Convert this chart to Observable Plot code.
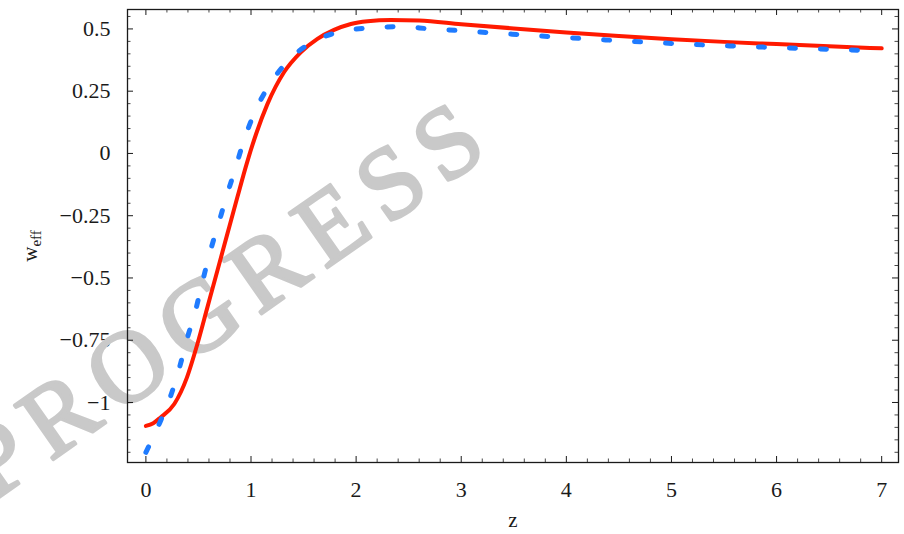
<!DOCTYPE html>
<html><head><meta charset="utf-8">
<script src="https://cdn.jsdelivr.net/npm/d3@7"></script>
<script src="https://cdn.jsdelivr.net/npm/@observablehq/plot@0.6"></script>
<style>
html,body{margin:0;padding:0;background:#fff;}
#chart{width:904px;height:534px;}
#chart svg text{font-family:'Liberation Serif','Times New Roman',serif !important;}
</style></head><body><div id="chart"></div>
<script>
// --- data ---
const zRed = [0, 0.07, 0.14, 0.27, 0.39, 0.49, 0.585, 0.68, 0.775, 0.87, 0.96, 1.05, 1.156, 1.314, 1.473, 1.632, 1.79, 1.95, 2.11, 2.33, 2.6, 3.0, 3.5, 4.0, 4.5, 5.0, 5.5, 6.0, 6.5, 7.0];
const wRed = [-1.094, -1.083, -1.06, -1.006, -0.90, -0.765, -0.618, -0.471, -0.323, -0.176, -0.04, 0.08, 0.198, 0.326, 0.406, 0.460, 0.496, 0.520, 0.531, 0.536, 0.534, 0.519, 0.502, 0.486, 0.472, 0.459, 0.448, 0.439, 0.430, 0.422];

const zBlue = [0, 0.133, 0.242, 0.324, 0.388, 0.473, 0.527, 0.61, 0.69, 0.769, 0.854, 0.927, 1.035, 1.17, 1.34, 1.56, 1.83, 2.12, 2.42, 2.71, 3.0, 3.3, 3.6, 3.9, 4.2, 4.5, 4.8, 5.1, 5.4, 5.7, 6.0, 6.3, 6.6, 6.9, 7.0];
const wBlue = [-1.20, -1.08, -0.966, -0.853, -0.750, -0.630, -0.535, -0.397, -0.283, -0.17, -0.056, 0.045, 0.165, 0.272, 0.366, 0.442, 0.487, 0.504, 0.509, 0.50, 0.493, 0.484, 0.476, 0.468, 0.46, 0.453, 0.446, 0.44, 0.434, 0.43, 0.425, 0.421, 0.417, 0.413, 0.412];

const xTicks = [0, 1, 2, 3, 4, 5, 6, 7];
const xTickLabels = ["0", "1", "2", "3", "4", "5", "6", "7"];
const yTicks = [0.5, 0.25, 0, -0.25, -0.5, -0.75, -1];
const yTickLabels = ["0.5", "0.25", "0", "\u22120.25", "\u22120.5", "\u22120.75", "\u22121"];
const xMinorTicks = [0.2,0.4,0.6,0.8,1.2,1.4,1.6,1.8,2.2,2.4,2.6,2.8,3.2,3.4,3.6,3.8,4.2,4.4,4.6,4.8,5.2,5.4,5.6,5.8,6.2,6.4,6.6,6.8];
const yMinorTicks = [0.55,0.45,0.4,0.35,0.3,0.2,0.15,0.1,0.05,-0.05,-0.1,-0.15,-0.2,-0.3,-0.35,-0.4,-0.45,-0.55,-0.6,-0.65,-0.7,-0.8,-0.85,-0.9,-0.95,-1.05,-1.1,-1.15,-1.2];
const xLabel = "z";
const yLabelMain = "w";
const yLabelSub = "eff";
const watermarkText = "PROGRESS";

// --- layout ---
const W = 904, H = 534;
const mL = 127, mR = 6, mT = 9, mB = 72;
const pw = W - mL - mR, ph = H - mT - mB;
const font = "'Liberation Serif', 'Times New Roman', serif";
const ink = "#1a1a1a";
const majorLen = 6, minorLen = 3.5;

const plot = Plot.plot({
  width: W, height: H,
  marginLeft: mL, marginRight: mR, marginTop: mT, marginBottom: mB,
  x: {domain: [-0.175, 7.16]},
  y: {domain: [-1.241, 0.578]},
  style: {fontFamily: font, fontSize: "22px", background: "white", color: ink, overflow: "visible"},
  marks: [
    Plot.axisX(xTicks, {tickSize: 0, tickPadding: 19, tickFormat: d => xTickLabels[xTicks.indexOf(d)], label: null, fontSize: 22}),
    Plot.axisY(yTicks, {tickSize: 0, tickPadding: 17, tickFormat: d => yTickLabels[yTicks.indexOf(d)], label: null, fontSize: 22}),
    // inward ticks on all four sides (bottom, top, left, right)
    Plot.tickX(xTicks, {x: d => d, insetTop: ph - majorLen, stroke: ink}),
    Plot.tickX(xTicks, {x: d => d, insetBottom: ph - majorLen, stroke: ink}),
    Plot.tickX(xMinorTicks, {x: d => d, insetTop: ph - minorLen, stroke: ink, strokeWidth: 0.8}),
    Plot.tickX(xMinorTicks, {x: d => d, insetBottom: ph - minorLen, stroke: ink, strokeWidth: 0.8}),
    Plot.tickY(yTicks, {y: d => d, insetRight: pw - majorLen, stroke: ink}),
    Plot.tickY(yTicks, {y: d => d, insetLeft: pw - majorLen, stroke: ink}),
    Plot.tickY(yMinorTicks, {y: d => d, insetRight: pw - minorLen, stroke: ink, strokeWidth: 0.8}),
    Plot.tickY(yMinorTicks, {y: d => d, insetLeft: pw - minorLen, stroke: ink, strokeWidth: 0.8}),
    Plot.frame({stroke: ink, strokeWidth: 1.3}),
    Plot.line(zRed, {x: zRed, y: wRed, stroke: "#ff1a00", strokeWidth: 4, curve: "monotone-x", strokeLinecap: "round"}),
    Plot.line(zBlue, {x: zBlue, y: wBlue, stroke: "#1f7bff", strokeWidth: 5, curve: "monotone-x", strokeDasharray: "6,25", strokeLinecap: "round"}),
    Plot.text([xLabel], {frameAnchor: "bottom", dy: 64, fontSize: 21, fill: ink})
  ]
});

const svg = d3.select(plot);
// watermark: above tick labels, beneath frame, ticks and curves
svg.insert("text", 'g[aria-label="tick"]')
  .attr("transform", "translate(247,324) rotate(-35)")
  .attr("text-anchor", "middle")
  .attr("font-family", font)
  .attr("font-size", 102)
  .attr("letter-spacing", 13)
  .attr("stroke", "#c9c9c9")
  .attr("stroke-width", 3)
  .attr("stroke-linejoin", "round")
  .attr("fill", "#c9c9c9")
  .text(watermarkText);

// y-axis label with subscript
const yl = svg.append("text")
  .attr("transform", "translate(37,246) rotate(-90)")
  .attr("text-anchor", "middle")
  .attr("font-family", font)
  .attr("font-size", 21)
  .attr("fill", ink);
yl.append("tspan").text(yLabelMain);
yl.append("tspan").attr("font-size", 15).attr("dy", 4).text(yLabelSub);

document.getElementById("chart").appendChild(plot);
</script>
</body></html>
